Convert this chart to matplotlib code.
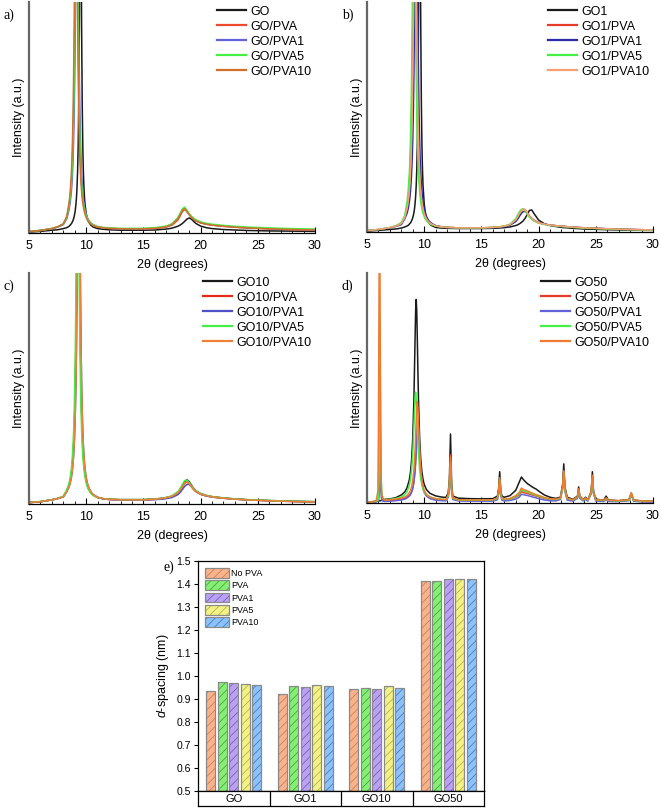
import matplotlib
matplotlib.use("Agg")
import matplotlib.pyplot as plt
from matplotlib.ticker import MultipleLocator, FormatStrFormatter

plt.rcParams["font.family"] = ["Liberation Sans", "DejaVu Sans"]
plt.rcParams["mathtext.fontset"] = "custom"
plt.rcParams["mathtext.it"] = "Liberation Sans:italic"
plt.rcParams["mathtext.rm"] = "Liberation Sans"
plt.rcParams["hatch.linewidth"] = 0.6

# ---------------- XRD data, panels a-c (shared 2theta grid) ----------------
two_theta = [5, 6, 7, 7.5, 8,
             8.3, 8.5, 8.6, 8.7, 8.75, 8.8, 8.85, 8.9, 8.95, 9.0,
             9.05, 9.1, 9.15, 9.2, 9.25, 9.3, 9.35, 9.4, 9.45, 9.5,
             9.55, 9.6, 9.65, 9.7, 9.75, 9.8, 9.85, 9.9, 10.0, 10.1,
             10.2, 10.4, 10.6, 11, 11.5, 12, 13, 14, 15, 16,
             16.5, 17, 17.5, 18, 18.2, 18.4, 18.6, 18.8, 19, 19.2,
             19.4, 19.6, 20, 20.5, 21, 22, 23, 24, 26, 28, 30]

# panel a
a_GO = [.004, .007, .012, .014, .019,
        .023, .029, .034, .040, .044, .049, .055, .062, .072, .084,
        .100, .123, .154, .200, .270, .382, .570, .886, 1.336, 1.61,
        1.336, .886, .570, .382, .270, .200, .154, .123, .084, .062,
        .049, .034, .026, .019, .016, .014, .012, .012, .012, .013,
        .015, .017, .021, .029, .034, .041, .050, .060, .065, .060,
        .050, .041, .030, .023, .019, .015, .013, .011, .009, .008, .007]
a_GO_PVA = [.006, .011, .019, .026, .038,
            .065, .114, .151, .212, .257, .317, .401, .518, .683, .911,
            1.2, 1.49, 1.61, 1.49, 1.2, .911, .683, .518, .401, .317,
            .257, .212, .178, .151, .131, .114, .101, .090, .074, .062,
            .053, .041, .034, .026, .022, .020, .018, .018, .018, .020,
            .022, .026, .034, .055, .072, .092, .102, .093, .080, .068,
            .060, .053, .044, .038, .034, .029, .025, .022, .018, .015, .013]
a_GO_PVA1 = [.006, .011, .019, .025, .036,
             .062, .101, .131, .178, .212, .257, .317, .401, .518, .683,
             .911, 1.2, 1.49, 1.61, 1.49, 1.2, .911, .683, .518, .401,
             .317, .257, .212, .178, .151, .131, .114, .101, .081, .067,
             .057, .043, .036, .027, .022, .020, .018, .018, .018, .021,
             .024, .028, .038, .063, .081, .101, .109, .096, .081, .069,
             .061, .054, .045, .039, .035, .030, .026, .023, .019, .016, .014]
a_GO_PVA5 = [.006, .011, .020, .027, .039,
             .067, .116, .153, .214, .259, .319, .403, .520, .685, .913,
             1.2, 1.49, 1.61, 1.49, 1.2, .913, .685, .520, .403, .319,
             .259, .214, .180, .153, .133, .116, .103, .092, .076, .064,
             .055, .043, .036, .028, .024, .022, .020, .020, .020, .023,
             .026, .030, .040, .066, .084, .104, .112, .099, .084, .072,
             .064, .057, .048, .042, .038, .033, .029, .026, .022, .019, .017]
a_GO_PVA10 = [.006, .011, .019, .027, .040,
              .072, .131, .178, .257, .317, .401, .518, .683, .911, 1.2,
              1.49, 1.61, 1.49, 1.2, .911, .683, .518, .401, .317, .257,
              .212, .178, .151, .131, .114, .101, .090, .081, .067, .057,
              .049, .039, .032, .026, .022, .020, .018, .018, .018, .020,
              .023, .027, .036, .060, .078, .097, .105, .093, .079, .067,
              .059, .052, .044, .038, .034, .029, .025, .022, .018, .015, .013]

# panel b
b_GO1 = [.004, .007, .011, .013, .017,
         .022, .026, .029, .034, .037, .040, .044, .049, .055, .062,
         .072, .084, .100, .123, .154, .200, .270, .382, .570, .886,
         1.336, 1.61, 1.336, .886, .570, .382, .270, .200, .123, .084,
         .062, .040, .029, .020, .017, .016, .015, .015, .015, .016,
         .017, .019, .022, .028, .032, .038, .046, .058, .075, .094,
         .096, .080, .052, .036, .028, .020, .016, .013, .010, .008, .007]
b_GO1_PVA = [.006, .011, .019, .026, .038,
             .065, .114, .151, .212, .257, .317, .401, .518, .683, .911,
             1.2, 1.49, 1.61, 1.49, 1.2, .911, .683, .518, .401, .317,
             .257, .212, .178, .151, .131, .114, .101, .090, .074, .062,
             .053, .041, .034, .026, .022, .020, .018, .018, .018, .020,
             .022, .025, .032, .052, .068, .088, .099, .098, .085, .070,
             .060, .051, .041, .034, .030, .025, .021, .018, .014, .011, .009]
b_GO1_PVA1 = [.006, .010, .018, .024, .032,
              .057, .081, .101, .131, .151, .178, .212, .257, .317, .401,
              .518, .683, .911, 1.2, 1.49, 1.61, 1.49, 1.2, .911, .683,
              .518, .401, .317, .257, .212, .178, .151, .131, .101, .081,
              .067, .049, .039, .028, .023, .020, .018, .017, .017, .019,
              .021, .024, .030, .045, .058, .074, .087, .090, .082, .068,
              .058, .050, .040, .034, .030, .025, .021, .018, .014, .011, .009]
b_GO1_PVA5 = [.006, .011, .019, .027, .040,
              .072, .131, .178, .257, .317, .401, .518, .683, .911, 1.2,
              1.49, 1.61, 1.49, 1.2, .911, .683, .518, .401, .317, .257,
              .212, .178, .151, .131, .114, .101, .090, .081, .067, .057,
              .049, .039, .032, .026, .022, .020, .018, .018, .018, .020,
              .022, .026, .034, .058, .077, .094, .101, .092, .077, .064,
              .055, .048, .039, .033, .029, .024, .020, .017, .013, .010, .008]
b_GO1_PVA10 = [.006, .011, .019, .025, .036,
               .062, .101, .131, .178, .212, .257, .317, .401, .518, .683,
               .911, 1.2, 1.49, 1.61, 1.49, 1.2, .911, .683, .518, .401,
               .317, .257, .212, .178, .151, .131, .114, .101, .081, .067,
               .057, .043, .036, .027, .022, .020, .018, .018, .018, .020,
               .022, .025, .032, .052, .068, .087, .098, .097, .084, .069,
               .059, .050, .040, .034, .030, .025, .021, .018, .014, .011, .009]

# panel c
c_GO10 = [.006, .010, .018, .024, .032,
          .057, .081, .101, .131, .151, .178, .212, .257, .317, .401,
          .518, .683, .911, 1.2, 1.49, 1.61, 1.49, 1.2, .911, .683,
          .518, .401, .317, .257, .212, .178, .151, .131, .101, .081,
          .067, .049, .039, .028, .023, .021, .019, .019, .019, .022,
          .024, .028, .034, .050, .062, .080, .097, .105, .097, .081,
          .067, .057, .045, .037, .032, .026, .022, .019, .015, .012, .010]
c_GO10_PVA = [.006, .010, .018, .024, .032,
              .057, .081, .101, .131, .151, .178, .212, .257, .317, .401,
              .518, .683, .911, 1.2, 1.49, 1.61, 1.49, 1.2, .911, .683,
              .518, .401, .317, .257, .212, .178, .151, .131, .101, .081,
              .067, .049, .039, .028, .022, .020, .018, .018, .018, .020,
              .022, .026, .032, .046, .057, .073, .089, .095, .088, .074,
              .062, .053, .042, .035, .030, .025, .021, .018, .014, .011, .009]
c_GO10_PVA1 = [.006, .010, .018, .023, .031,
               .053, .074, .090, .114, .131, .151, .178, .212, .257, .317,
               .401, .518, .683, .911, 1.2, 1.49, 1.61, 1.49, 1.2, .911,
               .683, .518, .401, .317, .257, .212, .178, .151, .114, .090,
               .074, .053, .041, .029, .022, .019, .017, .017, .017, .019,
               .020, .023, .028, .040, .049, .062, .076, .084, .085, .076,
               .064, .054, .042, .035, .030, .025, .021, .018, .014, .011, .009]
c_GO10_PVA5 = [.006, .011, .018, .024, .034,
               .062, .090, .114, .151, .178, .212, .257, .317, .401, .518,
               .683, .911, 1.2, 1.49, 1.61, 1.49, 1.2, .911, .683, .518,
               .401, .317, .257, .212, .178, .151, .131, .114, .090, .074,
               .062, .046, .037, .028, .023, .021, .019, .019, .019, .022,
               .024, .028, .035, .053, .066, .085, .101, .104, .093, .078,
               .066, .057, .045, .037, .032, .026, .022, .019, .015, .012, .010]
c_GO10_PVA10 = [.006, .010, .018, .023, .031,
                .053, .074, .090, .114, .131, .151, .178, .212, .257, .317,
                .401, .518, .683, .911, 1.2, 1.49, 1.61, 1.49, 1.2, .911,
                .683, .518, .401, .317, .257, .212, .178, .151, .114, .090,
                .074, .053, .041, .029, .023, .020, .018, .018, .018, .021,
                .023, .027, .033, .048, .059, .075, .091, .096, .089, .075,
                .063, .054, .043, .036, .031, .025, .021, .018, .014, .011, .009]

# ---------------- XRD data, panel d (own grid, many sharp reflections) ----------------
two_theta_d = [5, 5.5, 5.8, 5.95, 6.0, 6.05, 6.1, 6.15, 6.2, 6.25,
               6.3, 6.4, 6.6, 7, 7.5, 8, 8.3, 8.5, 8.7, 8.8,
               8.9, 9.0, 9.1, 9.2, 9.25, 9.3, 9.35, 9.4, 9.45, 9.5,
               9.6, 9.7, 9.8, 9.9, 10.0, 10.2, 10.5, 11, 11.5, 11.9,
               12.1, 12.2, 12.3, 12.4, 12.5, 13, 14, 15, 16, 16.4,
               16.5, 16.6, 16.7, 16.8, 17, 17.5, 18, 18.3, 18.5, 18.7,
               19, 19.5, 19.8, 20, 20.5, 21, 21.5, 21.9, 22.1, 22.2,
               22.3, 22.5, 23.0, 23.4, 23.5, 23.6, 23.9, 24.1, 24.3, 24.6,
               24.7, 24.8, 25.0, 25.7, 25.9, 26.1, 27, 27.9, 28.1, 28.3,
               29, 30]
d_GO50 = [.004, .006, .008, .009, .009, .010, .010, .010, .010, .011,
          .015, .015, .016, .018, .023, .035, .048, .066, .101, .134,
          .189, .283, .450, .710, .834, .885, .834, .710, .572, .450,
          .283, .189, .135, .102, .081, .058, .042, .031, .026, .024,
          .045, .100, .300, .080, .030, .021, .019, .018, .019, .030,
          .060, .136, .050, .030, .025, .032, .055, .090, .113, .100,
          .085, .068, .060, .052, .035, .025, .020, .025, .080, .170,
          .070, .025, .016, .030, .070, .030, .015, .025, .014, .050,
          .136, .050, .016, .013, .030, .013, .010, .015, .042, .013,
          .009, .008]
d_GO50_PVA = [.002, .004, .006, .010, .020, .060, .200, .380, .200, .060,
              .025, .013, .009, .010, .013, .016, .020, .025, .033, .039,
              .050, .066, .094, .142, .180, .228, .282, .330, .350, .330,
              .228, .142, .094, .066, .050, .033, .022, .016, .013, .012,
              .030, .080, .210, .060, .020, .012, .011, .011, .012, .020,
              .045, .100, .040, .018, .014, .017, .025, .035, .050, .045,
              .042, .034, .030, .027, .020, .015, .013, .020, .070, .140,
              .060, .018, .011, .025, .060, .025, .012, .020, .011, .045,
              .120, .045, .012, .010, .020, .010, .008, .012, .040, .011,
              .007, .006]
d_GO50_PVA1 = [.002, .003, .005, .007, .010, .030, .080, .120, .070, .025,
               .012, .008, .007, .008, .010, .013, .017, .022, .030, .036,
               .047, .062, .090, .137, .175, .222, .275, .322, .340, .320,
               .222, .137, .090, .062, .046, .030, .019, .012, .010, .009,
               .025, .060, .150, .040, .015, .009, .008, .008, .008, .014,
               .035, .085, .030, .012, .009, .011, .017, .025, .038, .036,
               .033, .026, .022, .019, .013, .010, .009, .015, .060, .120,
               .050, .013, .008, .020, .050, .020, .009, .015, .008, .040,
               .100, .040, .009, .007, .015, .007, .006, .010, .035, .008,
               .005, .004]
d_GO50_PVA5 = [.002, .005, .008, .012, .020, .100, .350, .600, .350, .100,
               .040, .020, .014, .016, .020, .026, .036, .049, .077, .103,
               .145, .217, .333, .459, .482, .459, .401, .333, .269, .217,
               .145, .103, .077, .060, .049, .036, .026, .019, .017, .015,
               .030, .075, .180, .055, .020, .013, .012, .012, .013, .020,
               .045, .100, .040, .018, .015, .018, .028, .040, .058, .052,
               .048, .038, .033, .030, .022, .017, .015, .020, .065, .130,
               .055, .020, .013, .025, .058, .025, .013, .020, .012, .045,
               .110, .045, .013, .011, .020, .011, .009, .012, .040, .011,
               .008, .007]
d_GO50_PVA10 = [.002, .005, .010, .050, .300, .900, 1.40, .800, .250, .070,
                .035, .018, .013, .014, .017, .021, .026, .032, .045, .055,
                .071, .098, .144, .227, .287, .356, .417, .442, .417, .356,
                .227, .144, .098, .071, .055, .037, .026, .019, .016, .015,
                .035, .080, .200, .060, .022, .014, .013, .013, .014, .022,
                .050, .110, .045, .020, .016, .020, .032, .045, .065, .058,
                .053, .042, .036, .033, .024, .018, .016, .022, .070, .140,
                .060, .020, .014, .027, .062, .027, .014, .022, .013, .050,
                .120, .048, .014, .012, .022, .012, .010, .014, .045, .013,
                .009, .008]

# ---------------- d-spacing bar data, panel e ----------------
samples = ["GO", "GO1", "GO10", "GO50"]
pva_series = ["No PVA", "PVA", "PVA1", "PVA5", "PVA10"]
d_no_pva = [0.933, 0.920, 0.943, 1.413]
d_pva = [0.974, 0.957, 0.949, 1.413]
d_pva1 = [0.968, 0.952, 0.945, 1.420]
d_pva5 = [0.964, 0.962, 0.955, 1.420]
d_pva10 = [0.962, 0.957, 0.949, 1.420]

bar_colors = ["#f8b28c", "#86ee74", "#baa2f2", "#f2f288", "#8cc2f8"]
hatch_colors = ["#d27f55", "#3fae3f", "#7c5fc4", "#b8b83c", "#3f7fcf"]

W, H = 661, 809
fig = plt.figure(figsize=(W / 100, H / 100), dpi=100)


def px_axes(left, top, right, bottom):
    return fig.add_axes([left / W, 1 - bottom / H, (right - left) / W, (bottom - top) / H])


def xrd_panel(ax, x, curves, labels, colors, tag, tag_xy):
    for y, lab, col in zip(curves, labels, colors):
        ax.plot(x, y, color=col, lw=1.1, label=lab)
    ax.set_xlim(5, 30)
    ax.set_ylim(0, 1)
    ax.xaxis.set_major_locator(MultipleLocator(5))
    ax.xaxis.set_minor_locator(MultipleLocator(1))
    ax.tick_params(axis="x", which="major", direction="in", length=4, width=0.8,
                   labelsize=9, pad=5)
    ax.tick_params(axis="x", which="minor", direction="in", length=2, width=0.6)
    ax.set_yticks([])
    for s in ("top", "right"):
        ax.spines[s].set_visible(False)
    ax.spines["left"].set_color("#666666")
    ax.spines["left"].set_linewidth(1.6)
    ax.spines["bottom"].set_linewidth(0.9)
    ax.set_xlabel("2θ (degrees)", fontsize=9, labelpad=5)
    ax.set_ylabel("Intensity (a.u.)", fontsize=9, labelpad=3)
    leg = ax.legend(loc="upper right", bbox_to_anchor=(1.0, 1.0), frameon=False,
                    fontsize=9, handlelength=2.3, handletextpad=0.35,
                    labelspacing=0.24, borderaxespad=0.1, borderpad=0.2)
    for ln in leg.get_lines():
        ln.set_linewidth(1.6)
    fig.text(tag_xy[0] / W, 1 - tag_xy[1] / H, tag, family="Liberation Serif",
             fontsize=10, va="center", ha="left")


ax_a = px_axes(29, 2, 315, 233)
xrd_panel(ax_a, two_theta, [a_GO, a_GO_PVA, a_GO_PVA1, a_GO_PVA5, a_GO_PVA10],
          ["GO", "GO/PVA", "GO/PVA1", "GO/PVA5", "GO/PVA10"],
          ["#1a1a1a", "#ee4a30", "#6262dc", "#44f044", "#d0702a"], "a)", (3, 15))

ax_b = px_axes(367, 2, 653, 232)
xrd_panel(ax_b, two_theta, [b_GO1, b_GO1_PVA, b_GO1_PVA1, b_GO1_PVA5, b_GO1_PVA10],
          ["GO1", "GO1/PVA", "GO1/PVA1", "GO1/PVA5", "GO1/PVA10"],
          ["#1a1a1a", "#e83a28", "#2c2ca8", "#44f044", "#f4a070"], "b)", (342, 15))

ax_c = px_axes(29, 273, 315, 504)
xrd_panel(ax_c, two_theta, [c_GO10, c_GO10_PVA, c_GO10_PVA1, c_GO10_PVA5, c_GO10_PVA10],
          ["GO10", "GO10/PVA", "GO10/PVA1", "GO10/PVA5", "GO10/PVA10"],
          ["#1a1a1a", "#e02a1a", "#5050c8", "#44f044", "#f08038"], "c)", (3, 286))

ax_d = px_axes(367, 273, 653, 503)
xrd_panel(ax_d, two_theta_d, [d_GO50, d_GO50_PVA, d_GO50_PVA1, d_GO50_PVA5, d_GO50_PVA10],
          ["GO50", "GO50/PVA", "GO50/PVA1", "GO50/PVA5", "GO50/PVA10"],
          ["#1a1a1a", "#e83a28", "#6262dc", "#44f044", "#f07a30"], "d)", (342, 286))

# ---------------- panel e ----------------
ax_e = px_axes(198, 561, 484, 791)
series = [d_no_pva, d_pva, d_pva1, d_pva5, d_pva10]
step, bw = 0.161, 0.13
handles = []
for i, (vals, lab) in enumerate(zip(series, pva_series)):
    pos = [k + (i - 2) * step for k in range(len(samples))]
    b1 = ax_e.bar(pos, vals, width=bw, bottom=0, color=bar_colors[i],
                  edgecolor=hatch_colors[i], hatch="////", linewidth=0, label=lab)
    b2 = ax_e.bar(pos, vals, width=bw, bottom=0, fill=False,
                  edgecolor="#8a8a8a", linewidth=0.9)
    handles.append((b1, b2))
ax_e.set_xlim(-0.5, 3.5)
ax_e.set_ylim(0.5, 1.5)
ax_e.set_xticks([])
ax_e.yaxis.set_major_locator(MultipleLocator(0.1))
ax_e.yaxis.set_major_formatter(FormatStrFormatter("%.1f"))
ax_e.tick_params(axis="y", direction="out", length=3, width=0.8, labelsize=7.5, pad=2)
for s in ax_e.spines.values():
    s.set_linewidth(0.9)
ax_e.set_ylabel("$d$-spacing (nm)", fontsize=9, labelpad=4)
ax_e.legend(handles, pva_series, loc="upper left", frameon=False, fontsize=6.5,
            handlelength=2.6, handleheight=1.3, handletextpad=0.3,
            labelspacing=0.25, borderaxespad=0.4)
fig.text(163 / W, 1 - 567 / H, "e)", family="Liberation Serif", fontsize=10,
         va="center", ha="left")

# category strip under the bars
ax_cat = px_axes(198, 791, 484, 806)
ax_cat.set_xlim(-0.5, 3.5)
ax_cat.set_ylim(0, 1)
ax_cat.set_xticks([])
ax_cat.set_yticks([])
for k, name in enumerate(samples):
    ax_cat.text(k, 0.5, name, ha="center", va="center", fontsize=8)
    if k > 0:
        ax_cat.axvline(k - 0.5, color="black", lw=0.9)
for s in ax_cat.spines.values():
    s.set_linewidth(0.9)

fig.savefig("out.png", dpi=100)
